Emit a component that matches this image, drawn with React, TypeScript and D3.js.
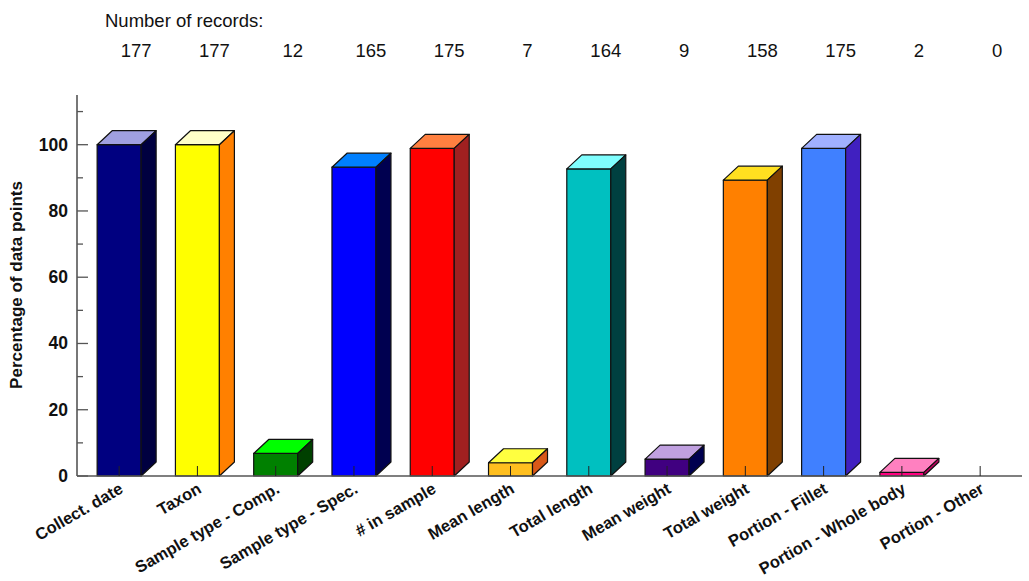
import React from "react";
import * as d3 from "d3";

const categories = [
  "Collect. date",
  "Taxon",
  "Sample type - Comp.",
  "Sample type - Spec.",
  "# in sample",
  "Mean length",
  "Total length",
  "Mean weight",
  "Total weight",
  "Portion - Fillet",
  "Portion - Whole body",
  "Portion - Other",
];
const percentages = [100, 100, 6.8, 93.2, 98.9, 4.0, 92.7, 5.1, 89.3, 98.9, 1.1, 0];
const recordCounts = [177, 177, 12, 165, 175, 7, 164, 9, 158, 175, 2, 0];
const majorTicks = [0, 20, 40, 60, 80, 100];
const minorTicks = [10, 30, 50, 70, 90, 110];

const frontColors = ["#000080", "#ffff00", "#008000", "#0000ff", "#ff0000", "#ffbf1f", "#00c0c0", "#400080", "#ff8000", "#4080ff", "#ff0080", "#808080"];
const topColors = ["#a0a0e0", "#ffffc8", "#00ff00", "#0080ff", "#ff8040", "#ffff40", "#80ffff", "#c0a0e0", "#ffe020", "#a0b0ff", "#ff80c0", "#c0c0c0"];
const sideColors = ["#000040", "#ff8000", "#004000", "#000050", "#a02020", "#d85818", "#004040", "#000050", "#804000", "#4020c0", "#c00060", "#404040"];

const W = 1029;
const H = 581;
const FONT = "Arial, 'Liberation Sans', Helvetica, sans-serif";

export default function App() {
  const x = d3.scaleBand<string>().domain(categories).range([80, 1019.3]).paddingInner(0.438).paddingOuter(0.219);
  const y = d3.scaleLinear().domain([0, 115]).range([476, 95]);
  const dx = 15;
  const dy = 14;
  const y0 = y(0);
  const axisX = 77;
  const bw = x.bandwidth();

  return (
    <svg width={W} height={H} style={{ position: "absolute", left: 0, top: 0, background: "#fff" }} fontFamily={FONT}>
      <rect x={0} y={0} width={W} height={H} fill="#fff" />
      <text x={105} y={27} fontSize={18.5} fill="#111">Number of records:</text>
      {recordCounts.map((c, i) => (
        <text key={"c" + i} x={(x(categories[i]) as number) + bw / 2 + 17} y={57} fontSize={18.5} textAnchor="middle" fill="#111">
          {c}
        </text>
      ))}

      {percentages.map((v, i) => {
        if (v <= 0) return null;
        const x0 = x(categories[i]) as number;
        const yt = y(v);
        const top = `${x0},${yt} ${x0 + dx},${yt - dy} ${x0 + bw + dx},${yt - dy} ${x0 + bw},${yt}`;
        const side = `${x0 + bw},${yt} ${x0 + bw + dx},${yt - dy} ${x0 + bw + dx},${y0 - dy} ${x0 + bw},${y0}`;
        return (
          <g key={"b" + i} stroke="#111" strokeWidth={1.2} strokeLinejoin="round">
            <rect x={x0} y={yt} width={bw} height={y0 - yt} fill={frontColors[i]} />
            <polygon points={top} fill={topColors[i]} />
            <polygon points={side} fill={sideColors[i]} />
          </g>
        );
      })}

      <line x1={axisX} x2={axisX} y1={95} y2={y0} stroke="#555" strokeWidth={1.6} />
      <line x1={axisX} x2={1022} y1={y0} y2={y0} stroke="#555" strokeWidth={1.6} />
      {majorTicks.map((t) => (
        <g key={"mt" + t}>
          <line x1={axisX} x2={axisX + 11} y1={y(t)} y2={y(t)} stroke="#555" strokeWidth={1.3} />
          <text x={68} y={y(t) + 6} fontSize={17.5} fontWeight="bold" textAnchor="end" fill="#111">
            {t}
          </text>
        </g>
      ))}
      {minorTicks.map((t) => (
        <line key={"mn" + t} x1={axisX} x2={axisX + 6} y1={y(t)} y2={y(t)} stroke="#555" strokeWidth={1.3} />
      ))}
      {categories.map((c) => {
        const cx = (x(c) as number) + bw / 2;
        return <line key={"ct" + c} x1={cx} x2={cx} y1={y0} y2={y0 - 10} stroke="#222" strokeWidth={1} />;
      })}
      {categories.map((c) => {
        const cx = (x(c) as number) + bw / 2 + 5;
        return (
          <text
            key={"cl" + c}
            transform={`translate(${cx},492) rotate(-30)`}
            fontSize={16.5}
            fontWeight="bold"
            textAnchor="end"
            fill="#111"
          >
            {c}
          </text>
        );
      })}
      <text transform={`translate(22,285) rotate(-90)`} fontSize={17} fontWeight="bold" textAnchor="middle" fill="#111">
        Percentage of data points
      </text>
    </svg>
  );
}
